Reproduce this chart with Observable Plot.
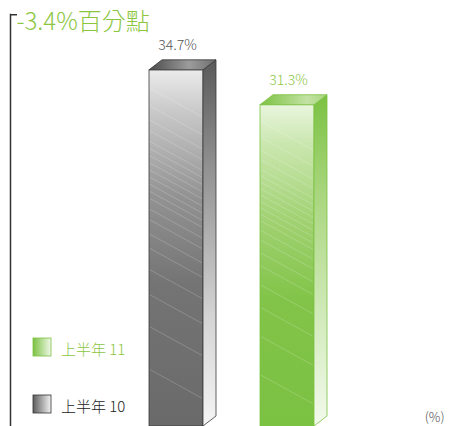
<!DOCTYPE html>
<html>
<head>
<meta charset="utf-8">
<script src="https://cdn.jsdelivr.net/npm/d3@7"></script>
<script src="https://cdn.jsdelivr.net/npm/@observablehq/plot@0.6"></script>
<style>
  html, body { margin: 0; padding: 0; background: #fff; }
  svg { display: block; }
</style>
</head>
<body>
<script>
// ---- data ----
const categories = ["上半年 10", "上半年 11"];
const values = [34.7, 31.3];
const valueLabels = ["34.7%", "31.3%"];
const changeLabel = "-3.4%百分點";
const unitLabel = "(%)";
const legendOrder = ["上半年 11", "上半年 10"];

const data = categories.map((c, i) => ({cat: c, value: values[i], label: valueLabels[i]}));

// ---- styles ----
const FONT = "'Noto Sans CJK TC', 'Noto Sans', sans-serif";
const GREEN = "#7cc243";
const DX = 13, DY = -10;

// gradient defs in a hidden svg
const defs = d3.select("body").append("svg")
  .attr("width", 0).attr("height", 0).style("position", "absolute")
  .append("defs");
function grad(id, stops, horiz) {
  const g = defs.append("linearGradient").attr("id", id)
    .attr("x1", 0).attr("y1", 0).attr("x2", horiz ? 1 : 0).attr("y2", horiz ? 0 : 1);
  stops.forEach(([o, c]) => g.append("stop").attr("offset", o).attr("stop-color", c));
}
grad("front0", [[0, "#ebebeb"], [0.12, "#c8c8c8"], [0.35, "#939393"], [0.6, "#747474"], [1, "#6a6a6a"]]);
grad("front1", [[0, "#e9f5de"], [0.12, "#cbe7b0"], [0.35, "#a2d274"], [0.6, "#82c449"], [1, "#7bc142"]]);
grad("side0", [[0, "#5a5a5a"], [0.3, "#929292"], [0.7, "#d4d4d4"], [1, "#f5f5f5"]]);
grad("side1", [[0, "#7bc142"], [0.3, "#a9d67e"], [0.7, "#d5ecc0"], [1, "#f3faed"]]);
grad("top0", [[0, "#4a4a4a"], [0.6, "#9c9c9c"], [1, "#6e6e6e"]], true);
grad("top1", [[0, "#7bc142"], [0.7, "#c2e2a3"], [1, "#a9d67e"]], true);
grad("leg0", [[0, "#5e5e5e"], [1, "#f2f2f2"]], true);
grad("leg1", [[0, "#7bc142"], [1, "#f0f8e8"]], true);

const edge = ["#3a3a3a", GREEN];
const labelColor = ["#555555", "#8cc63f"];

const plot = Plot.plot({
  width: 452,
  height: 426,
  marginLeft: 10,
  marginTop: 14,
  marginRight: 0,
  marginBottom: 0,
  x: {type: "band", domain: categories, range: [92, 371], padding: 0.5135, axis: null},
  y: {domain: [0, 41.5], range: [426, 0], axis: null},
  marks: [
    Plot.frame({anchor: "left", stroke: "#333", strokeWidth: 1.5}),
    ...data.map((d, i) => Plot.barY([d], {x: "cat", y: "value", fill: `url(#front${i})`, stroke: edge[i], strokeWidth: 0.8})),
    ...data.map((d, i) => Plot.text([d], {x: "cat", y: "value", text: "label", dy: -25, dx: 1, fill: labelColor[i],
      fontSize: 14, fontFamily: FONT, fontWeight: 300})),
    Plot.text([changeLabel], {frameAnchor: "top-left", text: d => d, dx: 6, dy: -2, fill: "#8cc63f",
      fontSize: 24, fontFamily: FONT, fontWeight: 300}),
    Plot.text([unitLabel], {frameAnchor: "bottom-right", text: d => d, dx: -8, dy: -5, fill: "#555",
      fontSize: 13, fontFamily: FONT, fontWeight: 300})
  ]
});
document.body.appendChild(plot);

const svg = d3.select(plot);
const xs = plot.scale("x"), ys = plot.scale("y");
const bw = xs.bandwidth;

// 3D faces, drawn from the plot's own scales
const faces = svg.append("g");
data.forEach((d, i) => {
  const x0 = xs.apply(d.cat), x1 = x0 + bw;
  const yt = ys.apply(d.value), yb = ys.apply(0);
  const clipId = "clip" + i;
  svg.append("clipPath").attr("id", clipId).append("rect")
    .attr("x", x0 + 1).attr("y", yt + 1).attr("width", bw - 2).attr("height", yb - yt);
  const hatch = faces.append("g").attr("clip-path", `url(#${clipId})`);
  const h = yb - yt;
  const offs = [0.05,0.1,0.14,0.17,0.2,0.22,0.24,0.26,0.28,0.3,0.32,0.34,0.36,0.39,0.42,0.46,0.5,0.56,0.63,0.72,0.84];
  offs.forEach(o => {
    hatch.append("line").attr("x1", x0).attr("y1", yt + o * h)
      .attr("x2", x1).attr("y2", yt + o * h + bw * 0.55)
      .attr("stroke", "#fff").attr("stroke-opacity", 0.28).attr("stroke-width", 0.7);
  });
  faces.append("path")
    .attr("d", `M${x1},${yt}L${x1 + DX},${yt + DY}L${x1 + DX},${yb + DY}L${x1},${yb}Z`)
    .attr("fill", `url(#side${i})`).attr("stroke", edge[i]).attr("stroke-width", 0.8);
  faces.append("path")
    .attr("d", `M${x0},${yt}L${x0 + DX},${yt + DY}L${x1 + DX},${yt + DY}L${x1},${yt}Z`)
    .attr("fill", `url(#top${i})`).attr("stroke", edge[i]).attr("stroke-width", 0.8);
});

// top tick of the axis bracket
svg.append("line").attr("x1", 10).attr("y1", 14.75).attr("x2", 17).attr("y2", 14.75)
  .attr("stroke", "#333").attr("stroke-width", 1.5);

// legend
const leg = svg.append("g").attr("text-anchor", "start");
legendOrder.forEach((name, k) => {
  const i = categories.indexOf(name);
  const y = 338 + k * 57;
  leg.append("rect").attr("x", 33).attr("y", y).attr("width", 18).attr("height", 18)
    .attr("fill", `url(#leg${i})`).attr("stroke", i === 0 ? "#333" : GREEN).attr("stroke-width", 0.8);
  leg.append("text").attr("x", 61).attr("y", y + 17).text(name)
    .attr("text-anchor", "start")
    .attr("fill", i === 0 ? "#222" : "#8cc63f").attr("font-size", 15)
    .attr("font-family", FONT).attr("font-weight", 300);
});
</script>
</body>
</html>
